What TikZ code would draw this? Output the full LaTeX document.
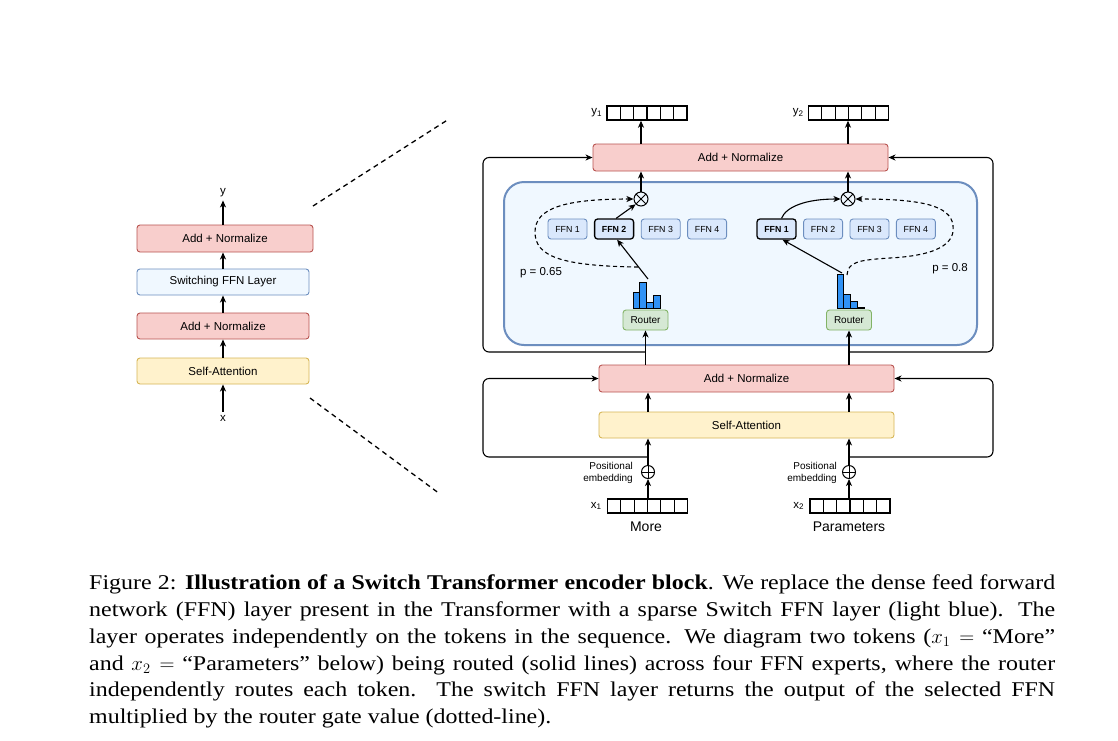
\documentclass[tikz,border=0pt]{standalone}
\usepackage{fontspec}
\setmainfont{Liberation Serif}[FakeStretch=1.14]
\setsansfont{Liberation Sans}
\usepackage{xcolor}
\usetikzlibrary{arrows.meta,positioning}
\definecolor{normfill}{HTML}{F8CECC}
\definecolor{normline}{HTML}{B85450}
\definecolor{ffnfill}{HTML}{DAE8FC}
\definecolor{ffnline}{HTML}{6C8EBF}
\definecolor{switchfill}{HTML}{F0F8FF}
\definecolor{attfill}{HTML}{FFF2CC}
\definecolor{attline}{HTML}{D6B656}
\definecolor{routfill}{HTML}{D5E8D4}
\definecolor{routline}{HTML}{82B366}
\definecolor{barblue}{HTML}{3092F5}
\tikzset{
    base-box/.style = {draw, rectangle, rounded corners=3pt, line width=0.9pt, inner sep=0pt, font=\sffamily\fontsize{11.5}{13.5}\selectfont},
    norm-box/.style = {base-box, draw=normline, fill=normfill},
    att-box/.style = {base-box, draw=attline, fill=attfill},
    layer-box/.style = {base-box, draw=ffnline, fill=switchfill},
    ffn-box/.style = {base-box, draw=ffnline, fill=ffnfill, minimum width=39pt, minimum height=20pt, font=\sffamily\fontsize{8.8}{10}\selectfont},
    ffn-chosen/.style = {ffn-box, draw=black, line width=1.3pt, font=\sffamily\bfseries\fontsize{8.8}{10}\selectfont},
    router-box/.style = {base-box, draw=routline, fill=routfill, minimum width=45pt, minimum height=20pt, font=\sffamily\fontsize{10}{12}\selectfont},
    times-op/.style = {circle, draw, line width=1pt, minimum size=14pt, inner sep=0pt,
        path picture={\draw[line width=1pt] (path picture bounding box.center) +(45:7pt) -- +(225:7pt) (path picture bounding box.center) +(135:7pt) -- +(-45:7pt);}},
    plus-op/.style = {circle, draw, line width=1pt, minimum size=13pt, inner sep=0pt,
        path picture={\draw[line width=1pt] (path picture bounding box.center) +(0:7pt) -- +(180:7pt) (path picture bounding box.center) +(90:7pt) -- +(270:7pt);}},
    token-vec/.style = {draw, line width=1.4pt, minimum width=80pt, minimum height=14pt, inner sep=0pt,
        path picture={\foreach \k in {1,...,5}
            \draw[line width=1.2pt] ([xshift=\k*80pt/6]path picture bounding box.south west) -- ([xshift=\k*80pt/6]path picture bounding box.north west);}},
    flow/.style = {line width=1.1pt, -{Stealth[length=7pt,width=6pt,inset=2pt]}},
    gate/.style = {flow, dash pattern=on 4pt off 3pt},
    zoom-line/.style = {line width=1.3pt, dash pattern=on 5pt off 4pt},
    small-label/.style = {font=\sffamily\fontsize{11.5}{13}\selectfont, inner sep=3pt},
    pos-label/.style = {font=\sffamily\fontsize{10}{12}\selectfont, inner sep=0pt, align=right, anchor=east},
    word-label/.style = {font=\sffamily\fontsize{14}{16}\selectfont, inner sep=0pt},
    caption-text/.style = {text width=966pt, align=justify, inner sep=0pt, anchor=north west, font=\fontsize{21}{27}\selectfont},
}
\begin{document}
\begin{tikzpicture}[x=1pt, y=-1pt]
\useasboundingbox[fill=white] (0,0) rectangle (1118,740);

% encoder block, small view
\node[norm-box, minimum width=176pt, minimum height=27pt] (l-norm2) at (225,238.5) {Add + Normalize};
\node[layer-box, minimum width=172pt, minimum height=26pt] (l-ffn) at (223,282) {Switching FFN Layer};
\node[norm-box, minimum width=172pt, minimum height=26pt] (l-norm1) at (223,326) {Add + Normalize};
\node[att-box, minimum width=172pt, minimum height=26pt] (l-att) at (223,371) {Self-Attention};
\node[small-label] (l-y) at (223,193) {y};
\node[small-label] (l-x) at (223,418) {x};
\draw[flow] (l-x) -- (l-att);
\draw[flow] (l-att) -- (l-norm1);
\draw[flow] (l-norm1) -- (l-ffn);
\draw[flow] (l-ffn.north) -- (l-ffn.north |- l-norm2.south);
\draw[flow] (l-norm2.north -| l-y) -- (l-y);

\coordinate (zoom-a1) at (313,206);
\coordinate (zoom-a2) at (449,119);
\coordinate (zoom-b1) at (310,398);
\coordinate (zoom-b2) at (440,494);
\draw[zoom-line] (zoom-a1) -- (zoom-a2);
\draw[zoom-line] (zoom-b1) -- (zoom-b2);

% encoder block, detailed view
\node[draw=ffnline, fill=switchfill, line width=2pt, rounded corners=20pt, minimum width=473pt, minimum height=163pt] (switch) at (740.5,263.5) {};
\node[norm-box, minimum width=295pt, minimum height=27pt] (top-norm) at (740.5,157.5) {Add + Normalize};
\node[norm-box, minimum width=295pt, minimum height=27pt] (bot-norm) at (746.5,378.5) {Add + Normalize};
\node[att-box, minimum width=295pt, minimum height=26pt] (self-att) at (746.5,425) {Self-Attention};

\node[ffn-box] (a-ffn1) at (567.5,229) {FFN 1};
\node[ffn-chosen, right=6.5pt of a-ffn1] (a-ffn2) {FFN 2};
\node[ffn-box, right=6.5pt of a-ffn2] (a-ffn3) {FFN 3};
\node[ffn-box, right=6.5pt of a-ffn3] (a-ffn4) {FFN 4};
\node[ffn-chosen] (b-ffn1) at (776.5,229) {FFN 1};
\node[ffn-box, right=6.5pt of b-ffn1] (b-ffn2) {FFN 2};
\node[ffn-box, right=6.5pt of b-ffn2] (b-ffn3) {FFN 3};
\node[ffn-box, right=6.5pt of b-ffn3] (b-ffn4) {FFN 4};

\node[router-box] (a-router) at (645.5,320) {Router};
\node[router-box] (b-router) at (849,320) {Router};
\foreach \h [count=\i from 0] in {16,26,6,13}
    \draw[fill=barblue, line width=0.8pt] (633+\i*6.75,308) rectangle ++(6.75,-\h);
\foreach \h [count=\i from 0] in {34,14,7,1}
    \draw[fill=barblue, line width=0.8pt] (837+\i*6.75,308) rectangle ++(6.75,-\h);

\node[times-op] (a-mul) at (641,199) {};
\node[times-op] (b-mul) at (848,199) {};
\node[plus-op] (a-add) at (648,472) {};
\node[plus-op] (b-add) at (849,472) {};

\node[token-vec] (a-out) at (647,113) {};
\node[token-vec] (b-out) at (848.5,113) {};
\node[token-vec] (a-in) at (647.5,506) {};
\node[token-vec] (b-in) at (850,506) {};
\node[small-label, left=1pt of a-out] {y\textsubscript{1}};
\node[small-label, left=1pt of b-out] {y\textsubscript{2}};
\node[small-label, left=2pt of a-in] {x\textsubscript{1}};
\node[small-label, left=2pt of b-in] {x\textsubscript{2}};
\node[word-label] (a-word) at (646,527) {More};
\node[word-label] (b-word) at (849,527) {Parameters};
\node[pos-label] (a-pos) at (633,473) {Positional\\embedding};
\node[pos-label] (b-pos) at (837,473) {Positional\\embedding};
\node[small-label] (a-p) at (541,273) {p = 0.65};
\node[small-label] (b-p) at (950,269) {p = 0.8};

% token paths
\draw[flow] (a-in.north -| a-add) -- (a-add.south);
\draw[flow] (b-in.north -| b-add) -- (b-add.south);
\draw[flow] (a-add.north) -- (self-att.south -| a-add);
\draw[flow] (b-add.north) -- (self-att.south -| b-add);
\draw[flow] (self-att.north -| a-add) -- (bot-norm.south -| a-add);
\draw[flow] (self-att.north -| b-add) -- (bot-norm.south -| b-add);
\draw[flow] (bot-norm.north -| a-router) -- (a-router.south);
\draw[flow] (bot-norm.north -| b-router) -- (b-router.south);
\draw[flow] (a-mul.north) -- (top-norm.south -| a-mul);
\draw[flow] (b-mul.north) -- (top-norm.south -| b-mul);
\draw[flow] (top-norm.north -| a-mul) -- (a-out.south -| a-mul);
\draw[flow] (top-norm.north -| b-mul) -- (b-out.south -| b-mul);

\coordinate (a-skip1) at (648,457);
\coordinate (b-skip1) at (849,457);
\coordinate (a-skip2) at (645.5,352);
\coordinate (b-skip2) at (849,352);
\draw[flow, rounded corners=6pt] (a-skip1) -- (483,457) |- (bot-norm.west);
\draw[flow, rounded corners=6pt] (b-skip1) -- (993,457) |- (bot-norm.east);
\draw[flow, rounded corners=6pt] (a-skip2) -- (483,352) |- (top-norm.west);
\draw[flow, rounded corners=6pt] (b-skip2) -- (993,352) |- (top-norm.east);

% routing
\coordinate (a-hist) at (648,279);
\coordinate (b-hist) at (842,273);
\coordinate (a-gate) at (638,267);
\coordinate (b-gate) at (847,275);
\draw[flow] (a-hist) -- ([xshift=3pt]a-ffn2.south);
\draw[flow] ([xshift=2pt]a-ffn2.north) -- (a-mul.south west);
\draw[flow] (b-hist) -- ([xshift=6pt]b-ffn1.south);
\draw[flow] ([xshift=5pt]b-ffn1.north) .. controls (786,207) and (805,199) .. (b-mul.west);
\draw[gate] (a-gate) .. controls (560,266) and (535,256) .. (535,232) .. controls (535,208) and (565,199) .. (a-mul.west);
\draw[gate] (b-gate) .. controls (848,262) and (858,260) .. (890,258) .. controls (945,255) and (955,240) .. (953,225) .. controls (950,205) and (920,199) .. (b-mul.east);

\node[caption-text] (caption) at (89,574) {Figure 2: \textbf{Illustration of a Switch Transformer encoder block}. We replace the dense feed forward\linebreak
network (FFN) layer present in the Transformer with a sparse Switch FFN layer (light blue).  The\linebreak
layer operates independently on the tokens in the sequence. We diagram two tokens ($x_1 =$ “More”\linebreak
and $x_2 =$ “Parameters” below) being routed (solid lines) across four FFN experts, where the router\linebreak
independently routes each token.  The switch FFN layer returns the output of the selected FFN\linebreak
multiplied by the router gate value (dotted-line).};
\end{tikzpicture}
\end{document}
